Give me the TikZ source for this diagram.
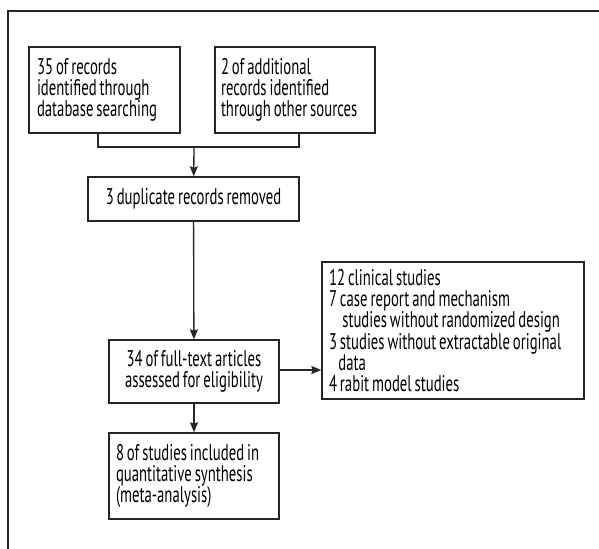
\documentclass[tikz,border=0pt]{standalone}
\usepackage{fontspec}
\setmainfont{PT Sans}[FakeStretch=0.65,WordSpace=0.75]
\usetikzlibrary{arrows.meta}
\begin{document}
\begin{tikzpicture}[x=0.75pt,y=-0.75pt,line join=miter,line width=1pt,
	>={Stealth[length=7.5pt,width=6pt,inset=1pt]},
	font=\fontsize{17}{16}\selectfont,
	box/.style={draw=black!85,rectangle,inner xsep=6pt,inner ysep=3pt,align=left,
		execute at begin node={\spaceskip=0pt\xspaceskip=0pt}},
	link/.style={draw=black!85,->}]
	\useasboundingbox (0,0) rectangle (599,549);
	% outer frame
	\draw[black!85] (8,549)--(8,11)--(599,11);
	% boxes
	\node[box,minimum width=151*0.75pt,minimum height=86*0.75pt,text width=135*0.75pt] (rec) at (104.5,90)
		{35 of records\\identified through\\database searching};
	\node[box,minimum width=160*0.75pt,minimum height=86*0.75pt,text width=148*0.75pt,inner xsep=4.5pt] (other) at (295,90)
		{2 of additional\\records identified\\through other sources};
	\node[box,minimum width=211*0.75pt,minimum height=44*0.75pt,align=center] (dup) at (193.5,199)
		{3 duplicate records removed};
	\node[box,minimum width=170*0.75pt,minimum height=63*0.75pt,align=center] (full) at (194,371.5)
		{34 of full-text articles\\assessed for eligibility};
	\node[box,minimum width=262*0.75pt,minimum height=137*0.75pt,text width=248*0.75pt,inner xsep=5pt] (excl) at (453,330.5)
		{12 clinical studies\\7 case report and mechanism\\\hspace*{10pt}studies without randomized design\\3 studies without extractable original\\\hspace*{7pt}data\\4 rabit model studies};
	\node[box,minimum width=170*0.75pt,minimum height=86*0.75pt,text width=156*0.75pt,inner xsep=5.25pt] (incl) at (194,476)
		{8 of studies included in\\quantitative synthesis\\(meta-analysis)};
	% connectors
	\path (98,147) coordinate (jl)
		(299,147) coordinate (jr)
		(194,147) coordinate (join);
	\draw[black!85] (rec.south -| jl)--(jl)--(jr)--(other.south -| jr);
	\draw[link] (join)--(dup);
	\draw[link] (dup)--(full);
	\draw[link] (full.east |- 0,370)--(excl.west |- 0,370);
	\draw[link] (full)--(incl);
\end{tikzpicture}
\end{document}
